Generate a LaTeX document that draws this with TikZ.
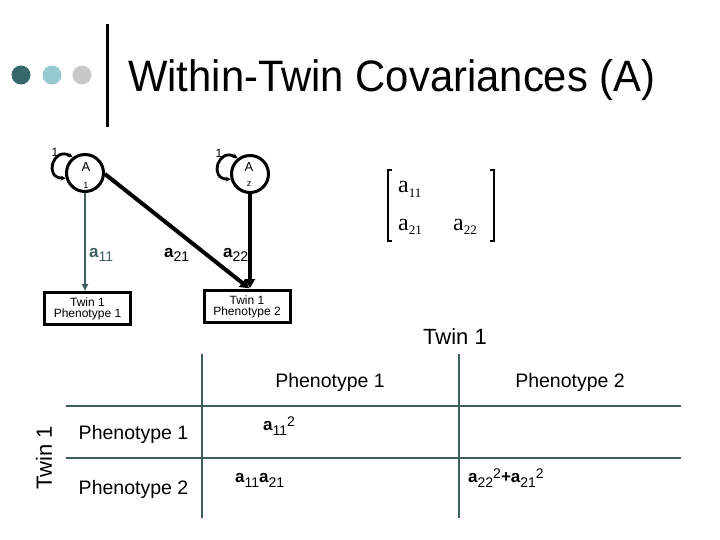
\documentclass[tikz,border=0pt]{standalone}
\usepackage{fontspec}
\setmainfont{Liberation Sans}
\newfontfamily\serifmat{Liberation Serif}
\usetikzlibrary{arrows.meta}
\definecolor{teal1}{RGB}{54,103,106}
\definecolor{lblue}{RGB}{149,203,208}
\definecolor{lgray}{RGB}{200,200,200}
\definecolor{tline}{RGB}{63,95,96}
\newcommand\myfs[1]{\fontsize{#1}{#1}\selectfont}
\newcommand\aS[1]{{\myfs{17}\bfseries a}\raisebox{-5pt}{\myfs{14}#1}}
\newcommand\sqtwo{\raisebox{4pt}{\myfs{14}2}}
\newcommand\mA[1]{{\myfs{24}a}\raisebox{-5pt}{\myfs{13}#1}}
\begin{document}
\begin{tikzpicture}[x=1pt,y=1pt,
  dotn/.style={circle, minimum size=19pt, inner sep=0pt},
  latent/.style={circle, draw, line width=3pt, minimum size=37pt, inner sep=0pt},
  obsbox/.style={draw, line width=3pt, minimum width=86pt, minimum height=32pt, inner sep=0pt, align=center, font=\myfs{12}},
  loopar/.style={{Stealth[length=5pt,width=5pt]}-{Stealth[length=5pt,width=5pt]}, line width=2.8pt},
  tealarr/.style={draw=tline, line width=2pt, -{Triangle[length=7pt,width=6pt]}},
  blackarr/.style={line width=4pt, -{Triangle[length=9pt,width=10pt]}},
  tl/.style={draw=tline, line width=2.5pt},
  plain/.style={inner sep=0pt},
  hdr/.style={inner sep=0pt, anchor=base, font=\myfs{19.5}},
]
\useasboundingbox (0,0) rectangle (720,-540);
% title
\node[dotn, fill=teal1] (d1) at (21,-75) {};
\node[dotn, fill=lblue] (d2) at (52,-75) {};
\node[dotn, fill=lgray] (d3) at (82,-75) {};
\draw[line width=3pt] (107,-24) -- (107,-127);
\node[plain, anchor=base west] (title) at (128,-92) {\myfs{44}\scalebox{0.95}[1]{Within-Twin Covariances (A)}};

% latent factors
\node[latent] (A1) at (85,-173) {};
\node[plain, font=\myfs{13}] (A1t) at (86,-167) {A};
\node[plain, font=\myfs{9}] (A1s) at (86,-185) {1};
\node[latent] (A2) at (250,-174) {};
\node[plain, font=\myfs{13}] (A2t) at (249,-167) {A};
\node[plain, font=\myfs{9}] (A2s) at (249,-184) {z};
\draw[loopar] (A1.195) to[out=180,in=150,looseness=2.6] (A1.128);
\draw[loopar] (A2.195) to[out=180,in=150,looseness=2.6] (A2.128);
\node[plain, font=\myfs{12}] (l1) at (55,-152) {1};
\node[plain, font=\myfs{12}] (l2) at (219,-153) {1};

% observed
\node[obsbox] (B1) at (87.5,-308.5) {Twin 1\\[-1pt]Phenotype 1};
\node[obsbox] (B2) at (247,-306.5) {Twin 1\\[-1pt]Phenotype 2};

% paths
\draw[tealarr] (A1) -- (A1 |- B1.north);
\draw[blackarr, shorten >=1pt] (A1.-3) -- (A2 |- B2.north);
\draw[blackarr, shorten >=1pt] (A2) -- (A2 |- B2.north);
\node[plain, anchor=base west, text=tline] (la11) at (89,-257) {\aS{11}};
\node[plain, anchor=base west] (la21) at (164,-257) {\aS{21}};
\node[plain, anchor=base west] (la22) at (223,-257) {\aS{22}};

% matrix
\draw[line width=1.2pt] (392,-170) -- (388,-170) -- (388,-241) -- (392,-241);
\draw[line width=1.2pt] (490,-170) -- (494,-170) -- (494,-241) -- (490,-241);
\node[plain, anchor=base west, font=\serifmat] (m11) at (398,-193) {\mA{11}};
\node[plain, anchor=base west, font=\serifmat] (m21) at (398,-230) {\mA{21}};
\node[plain, anchor=base west, font=\serifmat] (m22) at (453,-230) {\mA{22}};

% table
\draw[tl] (202,-354) -- (202,-518);
\draw[tl] (459,-354) -- (459,-518);
\draw[tl] (66,-406) -- (681,-406);
\draw[tl] (66,-458) -- (681,-458);
\node[plain, font=\myfs{22}] (tw1) at (455,-337) {Twin 1};
\node[plain, font=\myfs{22}, rotate=90] (tw2) at (44,-458) {Twin 1};
\node[hdr] (h1) at (330,-387) {Phenotype 1};
\node[hdr] (h2) at (570,-387) {Phenotype 2};
\node[hdr] (r1) at (133.5,-439.3) {Phenotype 1};
\node[hdr] (r2) at (133.5,-494.3) {Phenotype 2};
\node[plain, anchor=base west] (c11) at (263,-430) {\aS{11}\sqtwo};
\node[plain, anchor=base west] (c21) at (235,-482.7) {\aS{11}\aS{21}};
\node[plain, anchor=base west] (c22) at (468,-482.7) {\aS{22}\sqtwo{\myfs{17}\bfseries +}\aS{21}\sqtwo};
\end{tikzpicture}
\end{document}
